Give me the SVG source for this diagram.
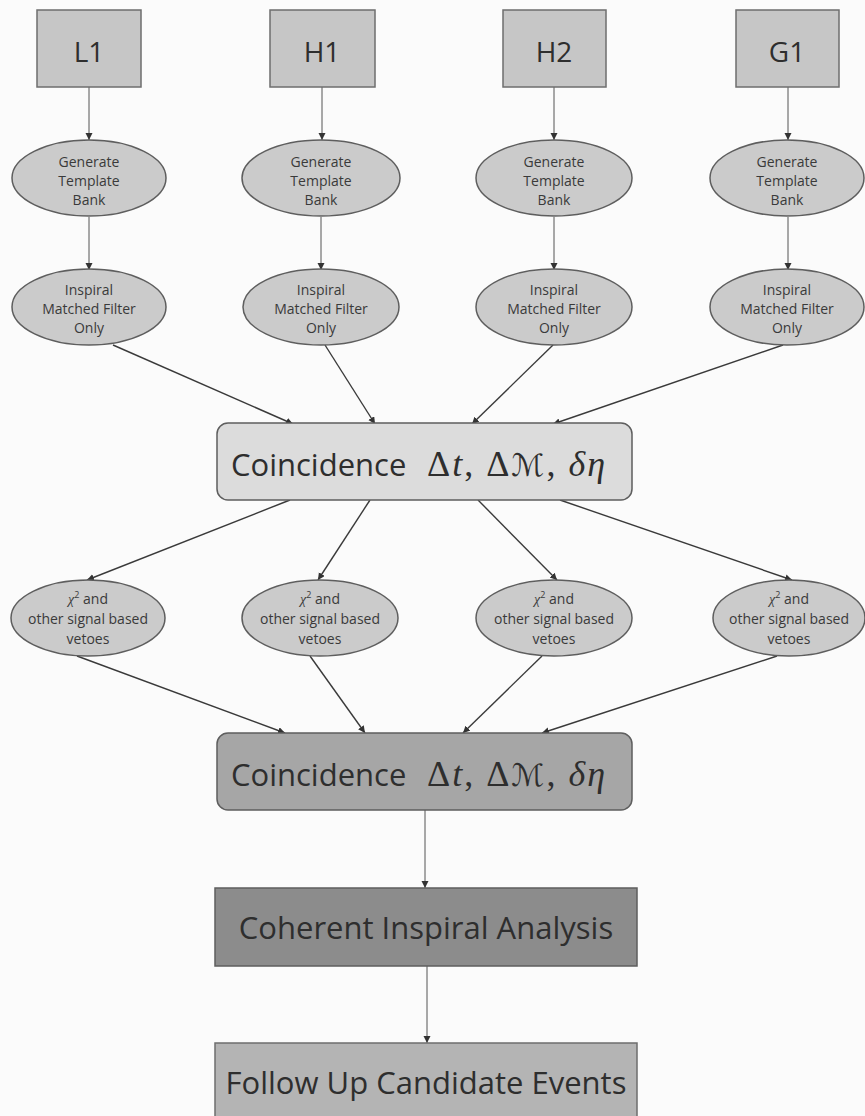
<svg xmlns="http://www.w3.org/2000/svg" width="865" height="1116" viewBox="0 0 865 1116">
<defs>
<marker id="ah" markerUnits="userSpaceOnUse" markerWidth="8" markerHeight="8" refX="7" refY="3.5" orient="auto">
<path d="M0,0 L7,3.5 L0,7 z" fill="#333"/>
</marker>
<style>
.det{fill:#c6c6c6;stroke:#6e6e6e;stroke-width:1.5}
.ell{fill:#cbcbcb;stroke:#5e5e5e;stroke-width:1.5}
.c1{fill:#dcdcdc;stroke:#5e5e5e;stroke-width:1.5}
.c2{fill:#a6a6a6;stroke:#5e5e5e;stroke-width:1.5}
.coh{fill:#8c8c8c;stroke:#5e5e5e;stroke-width:1.5}
.fol{fill:#b4b4b4;stroke:#6e6e6e;stroke-width:1.5}
.big{font-family:"Open Sans","Noto Sans",sans-serif;font-size:28px;fill:#2e2e2e;text-anchor:middle}
.sm{font-family:"Open Sans","Noto Sans",sans-serif;font-size:14px;fill:#3a3a3a;text-anchor:middle}
.lab{font-family:"Open Sans","Noto Sans",sans-serif;font-size:31px;fill:#2e2e2e}
.math{font-family:"Liberation Serif","DejaVu Serif",serif;font-size:36px;fill:#2e2e2e}
.v{stroke:#555;stroke-width:1;fill:none}
.d{stroke:#3a3a3a;stroke-width:1.4;fill:none}
</style>
</defs>
<rect width="865" height="1116" fill="#fbfbfb"/>

<g id="connectors">
<line class="v" x1="89" y1="87" x2="89" y2="140" marker-end="url(#ah)"/>
<line class="v" x1="322" y1="87" x2="322" y2="140" marker-end="url(#ah)"/>
<line class="v" x1="554" y1="87" x2="554" y2="140" marker-end="url(#ah)"/>
<line class="v" x1="788" y1="87" x2="788" y2="140" marker-end="url(#ah)"/>
<line class="v" x1="89" y1="217" x2="89" y2="270" marker-end="url(#ah)"/>
<line class="v" x1="321" y1="217" x2="321" y2="270" marker-end="url(#ah)"/>
<line class="v" x1="554" y1="217" x2="554" y2="270" marker-end="url(#ah)"/>
<line class="v" x1="788" y1="217" x2="788" y2="270" marker-end="url(#ah)"/>
<line class="d" x1="113" y1="345" x2="293" y2="424" marker-end="url(#ah)"/>
<line class="d" x1="325" y1="345" x2="375" y2="424" marker-end="url(#ah)"/>
<line class="d" x1="553" y1="345" x2="472" y2="424" marker-end="url(#ah)"/>
<line class="d" x1="783" y1="345" x2="553" y2="424" marker-end="url(#ah)"/>
<line class="d" x1="290" y1="500" x2="87" y2="580" marker-end="url(#ah)"/>
<line class="d" x1="370" y1="500" x2="318" y2="580" marker-end="url(#ah)"/>
<line class="d" x1="478" y1="500" x2="557" y2="580" marker-end="url(#ah)"/>
<line class="d" x1="560" y1="500" x2="792" y2="580" marker-end="url(#ah)"/>
<line class="d" x1="77" y1="656" x2="285" y2="733" marker-end="url(#ah)"/>
<line class="d" x1="310" y1="656" x2="365" y2="733" marker-end="url(#ah)"/>
<line class="d" x1="542" y1="656" x2="463" y2="733" marker-end="url(#ah)"/>
<line class="d" x1="777" y1="656" x2="542" y2="733" marker-end="url(#ah)"/>
<line class="v" x1="425" y1="810" x2="425" y2="888" marker-end="url(#ah)"/>
<line class="v" x1="427" y1="966" x2="427" y2="1043" marker-end="url(#ah)"/>
</g>

<g id="L1"><rect class="det" x="37" y="10" width="104" height="77"/><text class="big" x="89" y="62">L1</text></g>
<g id="H1"><rect class="det" x="270" y="10" width="105" height="77"/><text class="big" x="322" y="62">H1</text></g>
<g id="H2"><rect class="det" x="503" y="10" width="103" height="77"/><text class="big" x="554" y="62">H2</text></g>
<g id="G1"><rect class="det" x="736" y="10" width="103" height="77"/><text class="big" x="787" y="62">G1</text></g>

<g id="gen-L1"><ellipse class="ell" cx="89" cy="178" rx="77" ry="38"/><text class="sm" x="89" y="167">Generate</text><text class="sm" x="89" y="186">Template</text><text class="sm" x="89" y="205">Bank</text></g>
<g id="gen-H1"><ellipse class="ell" cx="321" cy="178" rx="79" ry="38"/><text class="sm" x="321" y="167">Generate</text><text class="sm" x="321" y="186">Template</text><text class="sm" x="321" y="205">Bank</text></g>
<g id="gen-H2"><ellipse class="ell" cx="554" cy="178" rx="78" ry="38"/><text class="sm" x="554" y="167">Generate</text><text class="sm" x="554" y="186">Template</text><text class="sm" x="554" y="205">Bank</text></g>
<g id="gen-G1"><ellipse class="ell" cx="787" cy="178" rx="77" ry="38"/><text class="sm" x="787" y="167">Generate</text><text class="sm" x="787" y="186">Template</text><text class="sm" x="787" y="205">Bank</text></g>

<g id="insp-L1"><ellipse class="ell" cx="89" cy="307" rx="77" ry="38"/><text class="sm" x="89" y="295">Inspiral</text><text class="sm" x="89" y="314">Matched Filter</text><text class="sm" x="89" y="333">Only</text></g>
<g id="insp-H1"><ellipse class="ell" cx="321" cy="307" rx="78" ry="38"/><text class="sm" x="321" y="295">Inspiral</text><text class="sm" x="321" y="314">Matched Filter</text><text class="sm" x="321" y="333">Only</text></g>
<g id="insp-H2"><ellipse class="ell" cx="554" cy="307" rx="78" ry="38"/><text class="sm" x="554" y="295">Inspiral</text><text class="sm" x="554" y="314">Matched Filter</text><text class="sm" x="554" y="333">Only</text></g>
<g id="insp-G1"><ellipse class="ell" cx="787" cy="307" rx="77" ry="38"/><text class="sm" x="787" y="295">Inspiral</text><text class="sm" x="787" y="314">Matched Filter</text><text class="sm" x="787" y="333">Only</text></g>

<g id="coinc1"><rect class="c1" x="217" y="423" width="415" height="77" rx="11"/>
<text class="lab" x="231" y="476">Coincidence</text>
<text class="math" x="427" y="476" textLength="178" lengthAdjust="spacing"><tspan>Δ</tspan><tspan font-style="italic">t</tspan><tspan>, Δ</tspan><tspan font-family="DejaVu Sans, sans-serif" font-size="31">ℳ</tspan><tspan>, </tspan><tspan font-style="italic">δη</tspan></text></g>

<g id="chi-1"><ellipse class="ell" cx="88" cy="618" rx="77" ry="38"/><text class="sm" x="88" y="604"><tspan font-family="Liberation Serif, serif" font-style="italic">χ</tspan><tspan font-size="9" dy="-6">2</tspan><tspan dy="6"> and</tspan></text><text class="sm" x="88" y="624">other signal based</text><text class="sm" x="88" y="644">vetoes</text></g>
<g id="chi-2"><ellipse class="ell" cx="320" cy="618" rx="78" ry="38"/><text class="sm" x="320" y="604"><tspan font-family="Liberation Serif, serif" font-style="italic">χ</tspan><tspan font-size="9" dy="-6">2</tspan><tspan dy="6"> and</tspan></text><text class="sm" x="320" y="624">other signal based</text><text class="sm" x="320" y="644">vetoes</text></g>
<g id="chi-3"><ellipse class="ell" cx="554" cy="618" rx="78" ry="38"/><text class="sm" x="554" y="604"><tspan font-family="Liberation Serif, serif" font-style="italic">χ</tspan><tspan font-size="9" dy="-6">2</tspan><tspan dy="6"> and</tspan></text><text class="sm" x="554" y="624">other signal based</text><text class="sm" x="554" y="644">vetoes</text></g>
<g id="chi-4"><ellipse class="ell" cx="789" cy="618" rx="76" ry="38"/><text class="sm" x="789" y="604"><tspan font-family="Liberation Serif, serif" font-style="italic">χ</tspan><tspan font-size="9" dy="-6">2</tspan><tspan dy="6"> and</tspan></text><text class="sm" x="789" y="624">other signal based</text><text class="sm" x="789" y="644">vetoes</text></g>

<g id="coinc2"><rect class="c2" x="217" y="733" width="415" height="77" rx="11"/>
<text class="lab" x="231" y="786">Coincidence</text>
<text class="math" x="427" y="786" textLength="178" lengthAdjust="spacing"><tspan>Δ</tspan><tspan font-style="italic">t</tspan><tspan>, Δ</tspan><tspan font-family="DejaVu Sans, sans-serif" font-size="31">ℳ</tspan><tspan>, </tspan><tspan font-style="italic">δη</tspan></text></g>

<g id="coherent"><rect class="coh" x="215" y="888" width="422" height="78"/><text class="lab" x="426" y="939" text-anchor="middle">Coherent Inspiral Analysis</text></g>
<g id="followup"><rect class="fol" x="215" y="1043" width="422" height="85"/><text class="lab" x="426" y="1094" text-anchor="middle">Follow Up Candidate Events</text></g>
</svg>
